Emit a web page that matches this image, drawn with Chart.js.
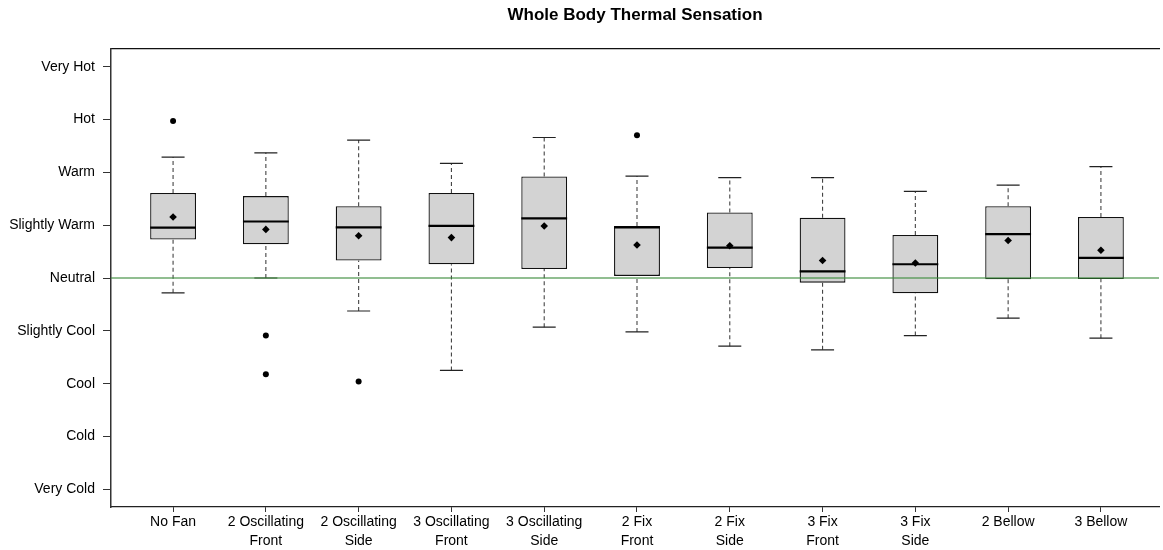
<!DOCTYPE html>
<html>
<head>
<meta charset="utf-8">
<script src="https://cdn.jsdelivr.net/npm/chart.js@4.4.1/dist/chart.umd.min.js"></script>
<style>
html,body{margin:0;padding:0;background:#fff;}
#wrap{width:1163px;height:550px;}
</style>
</head>
<body>
<div id="wrap"><canvas id="c" width="1163" height="550"></canvas></div>
<script>
// ---- data ----
const categories = [['No Fan'], ['2 Oscillating','Front'], ['2 Oscillating','Side'], ['3 Oscillating','Front'], ['3 Oscillating','Side'], ['2 Fix','Front'], ['2 Fix','Side'], ['3 Fix','Front'], ['3 Fix','Side'], ['2 Bellow'], ['3 Bellow']];
const yTickValues = [-4, -3, -2, -1, 0, 1, 2, 3, 4];
const yTickLabels = ['Very Cold', 'Cold', 'Cool', 'Slightly Cool', 'Neutral', 'Slightly Warm', 'Warm', 'Hot', 'Very Hot'];
const whiskerLow  = [-0.28, 0.00, -0.625, -1.75, -0.93, -1.02, -1.29, -1.36, -1.09, -0.76, -1.14];
const q1          = [0.73, 0.64, 0.33, 0.26, 0.17, 0.04, 0.19, -0.088, -0.29, -0.025, -0.02];
const medians     = [0.955, 1.07, 0.96, 0.985, 1.13, 0.96, 0.575, 0.127, 0.26, 0.83, 0.38];
const q3          = [1.61, 1.55, 1.36, 1.61, 1.92, 0.985, 1.24, 1.14, 0.815, 1.36, 1.155];
const whiskerHigh = [2.29, 2.37, 2.61, 2.17, 2.66, 1.93, 1.90, 1.90, 1.64, 1.76, 2.11];
const means       = [1.155, 0.92, 0.80, 0.765, 0.985, 0.625, 0.61, 0.33, 0.285, 0.71, 0.525];
const outlierCategory = [1, 2, 2, 3, 6];
const outlierValue    = [2.97, -1.09, -1.82, -1.96, 2.70];
const referenceValue = 0;

// ---- layout / style constants ----
const X_MIN = 0.331, X_MAX = 11.626;
const Y_MIN = -4.335, Y_MAX = 4.335;
const BOX_HALF = 0.247;
const CAP_HALF = 0.124;
const FONT = "'Liberation Sans', Arial, sans-serif";

const pos = categories.map((_, i) => i + 1);

const boxData = pos.map((x, i) => ({x: x, y: [q1[i], q3[i]]}));
const whiskerData = [];
pos.forEach((x, i) => {
  whiskerData.push({x: x, y: whiskerLow[i]}, {x: x, y: q1[i]}, {x: x, y: null});
  whiskerData.push({x: x, y: q3[i]}, {x: x, y: whiskerHigh[i]}, {x: x, y: null});
});
const capData = [];
pos.forEach((x, i) => {
  capData.push({x: x - CAP_HALF, y: whiskerLow[i]}, {x: x + CAP_HALF, y: whiskerLow[i]}, {x: x, y: null});
  capData.push({x: x - CAP_HALF, y: whiskerHigh[i]}, {x: x + CAP_HALF, y: whiskerHigh[i]}, {x: x, y: null});
});
const medianData = [];
pos.forEach((x, i) => {
  medianData.push({x: x - BOX_HALF, y: medians[i]}, {x: x + BOX_HALF, y: medians[i]}, {x: x, y: null});
});
const meanData = pos.map((x, i) => ({x: x, y: means[i]}));
const outlierData = outlierCategory.map((c, i) => ({x: c, y: outlierValue[i]}));
const refData = [{x: X_MIN, y: referenceValue}, {x: X_MAX, y: referenceValue}];

const lineBase = {type: 'line', pointRadius: 0, pointHoverRadius: 0, spanGaps: false, fill: false, tension: 0};

new Chart(document.getElementById('c'), {
  type: 'bar',
  data: {
    datasets: [
      {type: 'bar', data: boxData, backgroundColor: '#d3d3d3', borderColor: '#111', borderWidth: 1.3, borderSkipped: false,
       barPercentage: 2 * BOX_HALF, categoryPercentage: 1, order: 7},
      Object.assign({}, lineBase, {data: whiskerData, borderColor: '#444', borderWidth: 1.1, borderDash: [4, 3], order: 6}),
      Object.assign({}, lineBase, {data: capData, borderColor: '#222', borderWidth: 1.2, order: 5}),
      Object.assign({}, lineBase, {data: medianData, borderColor: '#000', borderWidth: 2.2, order: 4}),
      {type: 'scatter', data: meanData, pointStyle: 'rectRot', pointRadius: 3.8, backgroundColor: '#000', borderColor: '#000', borderWidth: 0, order: 3},
      {type: 'scatter', data: outlierData, pointStyle: 'circle', pointRadius: 3, backgroundColor: '#000', borderColor: '#000', borderWidth: 0, order: 2},
      Object.assign({}, lineBase, {data: refData, borderColor: 'rgba(60,140,60,0.75)', borderWidth: 1.5, order: 1})
    ]
  },
  options: {
    responsive: false,
    animation: false,
    devicePixelRatio: 1,
    events: [],
    layout: {padding: {left: 0, right: -3, top: 0, bottom: 0}},
    plugins: {
      legend: {display: false},
      tooltip: {enabled: false},
      title: {
        display: true,
        text: 'Whole Body Thermal Sensation',
        fullSize: false,
        color: '#000',
        font: {family: FONT, size: 17, weight: 'bold', lineHeight: 1.2},
        padding: {top: 4.8, bottom: 23.8}
      }
    },
    scales: {
      x: {
        type: 'linear', position: 'bottom', min: X_MIN, max: X_MAX, offset: false,
        afterBuildTicks: s => { s.ticks = pos.map(v => ({value: v})); },
        afterFit: s => { s.height = 43; },
        ticks: {
          autoSkip: false, maxRotation: 0, minRotation: 0, padding: 1, color: '#000',
          font: {family: FONT, size: 14, lineHeight: 1.32},
          callback: (v) => categories[Math.round(v) - 1] || ''
        },
        grid: {offset: false, drawOnChartArea: false, drawTicks: true, tickLength: 5, color: '#333', lineWidth: 1},
        border: {display: true, color: '#222', width: 1.2}
      },
      xTop: {
        type: 'linear', position: 'top', min: X_MIN, max: X_MAX, offset: false,
        afterFit: s => { s.height = 0; },
        ticks: {display: false},
        grid: {offset: false, drawOnChartArea: false, drawTicks: false},
        border: {display: true, color: '#111', width: 1.2}
      },
      y: {
        type: 'linear', position: 'left', min: Y_MIN, max: Y_MAX,
        afterBuildTicks: s => { s.ticks = yTickValues.map(v => ({value: v})); },
        afterFit: s => { s.width = 111; },
        ticks: {
          padding: 8, color: '#000',
          font: {family: FONT, size: 14},
          callback: (v) => { const k = yTickValues.indexOf(v); return k >= 0 ? yTickLabels[k] : ''; }
        },
        grid: {drawOnChartArea: false, drawTicks: true, tickLength: 8, color: '#333', lineWidth: 1},
        border: {display: true, color: '#333', width: 1.5}
      }
    }
  }
});
</script>
</body>
</html>
